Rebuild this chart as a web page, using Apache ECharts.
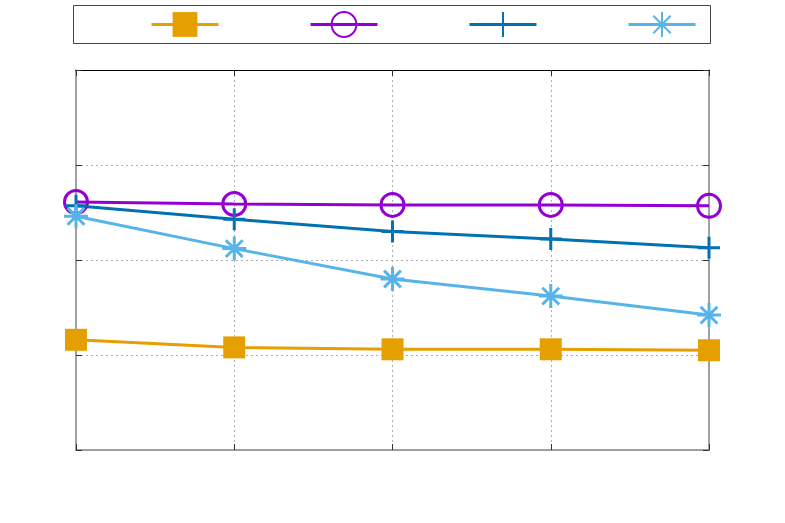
<!DOCTYPE html>
<html>
<head>
<meta charset="utf-8">
<script src="https://cdn.jsdelivr.net/npm/echarts@6/dist/echarts.min.js"></script>
<style>
  html, body { margin: 0; padding: 0; background: #fff; }
  #chart { width: 785px; height: 523px; }
</style>
</head>
<body>
<div id="chart"></div>
<script>
// data (y in grid units, 0..4)
const categories = ['1', '2', '3', '4', '5']
const seriesNames = ['s1', 's2', 's3', 's4']
const squareVals = [1.16, 1.08, 1.06, 1.06, 1.05]
const circleVals = [2.61, 2.59, 2.58, 2.58, 2.57]
const plusVals = [2.57, 2.43, 2.30, 2.22, 2.13]
const starVals = [2.46, 2.12, 1.80, 1.62, 1.42]

const myChart = echarts.init(document.getElementById('chart'))

const plusPath = 'path://M5,0L5,10M0,5L10,5'
const starPath = 'path://M5,0L5,10M0,5L10,5M1.5,1.5L8.5,8.5M8.5,1.5L1.5,8.5'

function lineSeries(name, data, color, symbol, size, filled) {
  return {
    name: name,
    type: 'line',
    data: data,
    symbol: symbol,
    symbolSize: size,
    showAllSymbol: true,
    lineStyle: { color: color, width: 3 },
    itemStyle: filled
      ? { color: color }
      : { color: 'rgba(0,0,0,0)', borderColor: color, borderWidth: 3 },
    emphasis: { disabled: true }
  }
}

const gridLine = {
  show: true,
  showMinLine: false,
  showMaxLine: false,
  lineStyle: { color: '#b0b0b0', type: [2, 3], width: 1 }
}
const tick = { show: true, inside: true, length: 6, lineStyle: { color: '#333' } }

const option = {
  animation: false,
  backgroundColor: '#fff',
  grid: { left: 76, right: 76, top: 70, bottom: 73 },
  graphic: [{
    type: 'rect',
    shape: { x: 73.5, y: 5.5, width: 637, height: 38 },
    style: { fill: 'none', stroke: '#444', lineWidth: 1 }
  }],
  legend: {
    left: 145,
    top: 4,
    itemWidth: 67,
    itemHeight: 31,
    itemGap: 89,
    lineStyle: { width: 3 },
    formatter: function () { return '' },
    data: seriesNames
  },
  xAxis: [{
    type: 'category',
    data: categories,
    boundaryGap: false,
    axisLine: { onZero: false, lineStyle: { color: '#808080', width: 1.5 } },
    axisTick: tick,
    axisLabel: { show: false },
    splitLine: gridLine
  }, {
    type: 'category',
    position: 'top',
    data: categories,
    boundaryGap: false,
    axisLine: { onZero: false, lineStyle: { color: '#000', width: 1 } },
    axisTick: tick,
    axisLabel: { show: false }
  }],
  yAxis: [{
    type: 'value',
    min: 0,
    max: 4,
    interval: 1,
    axisLine: { show: true, onZero: false, lineStyle: { color: '#808080', width: 1.5 } },
    axisTick: tick,
    axisLabel: { show: false },
    splitLine: gridLine
  }, {
    type: 'value',
    position: 'right',
    min: 0,
    max: 4,
    interval: 1,
    axisLine: { show: true, onZero: false, lineStyle: { color: '#808080', width: 1.5 } },
    axisTick: tick,
    axisLabel: { show: false },
    splitLine: { show: false }
  }],
  series: [
    lineSeries(seriesNames[0], squareVals, '#E69F00', 'rect', 22, true),
    lineSeries(seriesNames[1], circleVals, '#9400D3', 'circle', 23, false),
    lineSeries(seriesNames[2], plusVals, '#0072B2', plusPath, 22, false),
    lineSeries(seriesNames[3], starVals, '#56B4E9', starPath, 24, false)
  ]
}

myChart.setOption(option)
window.addEventListener('resize', function () {
  myChart.resize()
})
</script>
</body>
</html>
